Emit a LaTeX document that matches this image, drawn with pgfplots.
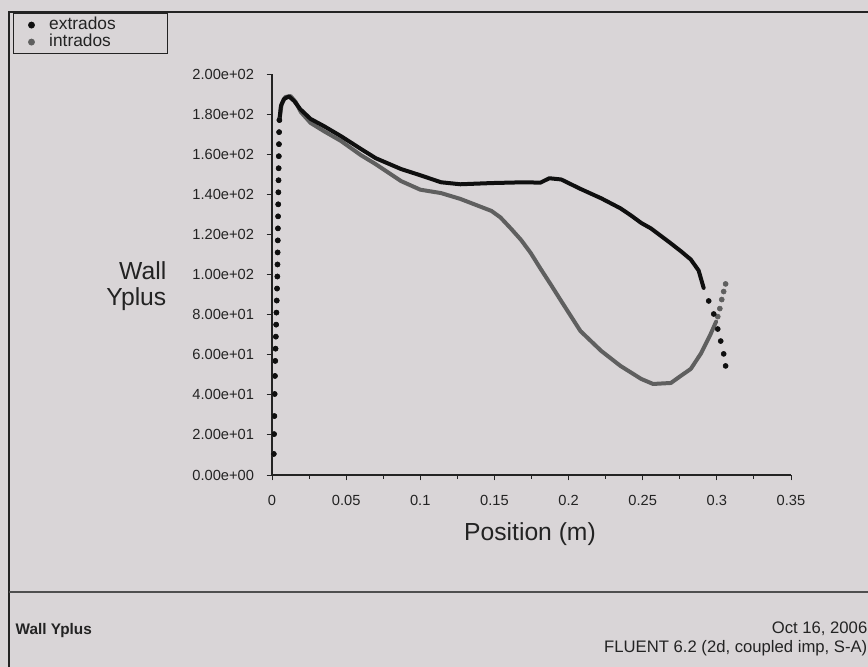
\documentclass[border=0pt]{standalone}
\usepackage{pgfplots}
\pgfplotsset{compat=1.18}
\usepackage{fontspec}
\setmainfont{Liberation Sans}
\definecolor{paper}{RGB}{217,213,215}
\definecolor{ink}{RGB}{35,35,35}
\definecolor{exc}{RGB}{15,15,15}
\definecolor{inc}{RGB}{95,95,95}

\pgfplotstableread{
x y
0.0012 10.5
0.0014 20.4
0.0016 29.4
0.0018 40.4
0.0020 49.4
0.0022 56.9
0.0024 63
0.0026 69
0.0028 75
0.0030 81
0.0032 87
0.0034 93
0.0036 99
0.0037 105
0.0038 111
0.0039 117
0.0040 123
0.0041 129
0.0042 135
0.0043 141
0.0044 147
0.0045 153
0.0046 159
0.0047 165
0.0048 171
0.0050 177
}\leadingedge

\pgfplotstableread{
x y
0.0050 177
0.0060 184
0.0080 187.5
0.0115 188.8
0.0150 186.5
0.0190 182.5
0.0260 177.6
0.0350 174
0.0465 169
0.0600 162.6
0.0700 158
0.0870 152.6
0.1000 149.5
0.1140 146
0.1270 145
0.1480 145.6
0.1700 146
0.1810 145.8
0.1870 148
0.1950 147.4
0.2080 142.7
0.2220 138
0.2350 133
0.2420 129.5
0.2490 125.7
0.2555 123
0.2690 115.5
0.2756 111.7
0.2824 107.5
0.2877 102
0.2911 93.3
}\extradosline

\pgfplotstableread{
x y
0.2945 86.8
0.2979 80.3
0.3006 72.8
0.3026 66.8
0.3046 60.4
0.3059 54.4
}\extradosdots

\pgfplotstableread{
x y
0.0050 177
0.0065 185
0.0090 188.5
0.0125 189
0.0160 186
0.0195 181
0.0260 175.6
0.0350 171.5
0.0465 166.6
0.0600 159.5
0.0700 155
0.0870 146.6
0.1000 142.3
0.1140 140.6
0.1270 137.7
0.1340 135.7
0.1480 131.7
0.1540 128.5
0.1610 123
0.1680 117.2
0.1745 110.7
0.1810 103
0.1880 95
0.1950 86.8
0.2080 71.8
0.2220 61.9
0.2350 54.4
0.2490 47.9
0.2570 45.4
0.2690 45.9
0.2756 49.4
0.2824 52.9
0.2891 60.4
0.2958 70.3
0.2995 76.5
}\intradosline

\pgfplotstableread{
x y
0.3006 79
0.3020 83
0.3033 87.5
0.3046 91.5
0.3059 95.3
}\intradosdots

\begin{document}
\begin{tikzpicture}[x=0.75pt,y=0.75pt]
\clip (0,0) rectangle (868,667);
\fill[paper] (0,0) rectangle (868,667);
% outer frame and separator
\draw[ink, line width=1.1pt] (9,-5) -- (9,655) -- (880,655);
\draw[ink!80, line width=0.9pt] (9,75) -- (880,75);

\begin{axis}[
  at={(204pt,144pt)}, anchor=south west,
  width=389.25pt, height=300.75pt, scale only axis,
  xmin=0, xmax=0.35, ymin=0, ymax=200,
  axis lines=left,
  axis line style={-, draw=ink, line width=0.8pt},
  xtick={0,0.05,0.1,0.15,0.2,0.25,0.3,0.35},
  xticklabels={0,0.05,0.1,0.15,0.2,0.25,0.3,0.35},
  ytick={0,20,40,60,80,100,120,140,160,180,200},
  yticklabels={0.00e+00,2.00e+01,4.00e+01,6.00e+01,8.00e+01,1.00e+02,1.20e+02,1.40e+02,1.60e+02,1.80e+02,2.00e+02},
  minor x tick num=1,
  tick align=outside, major tick length=4pt, minor tick length=3pt,
  every tick/.style={ink, line width=0.7pt},
  ticklabel style={font=\fontsize{11}{12}\selectfont, text=ink},
  yticklabel style={xshift=-6pt},
  xticklabel style={yshift=-8pt},
  clip=false,
  legend image code/.code={\fill (0pt,0pt) circle (2pt);},
  legend style={at={(-0.499,1.1521)}, anchor=north west,
    draw=ink, line width=1.1pt, fill=none,
    font=\fontsize{13}{14}\selectfont, text=ink,
    inner xsep=10.75pt, inner ysep=3pt, row sep=1.75pt,
    nodes={inner sep=0pt, text height=8.5pt, text depth=2.5pt},
    /tikz/every odd column/.append style={column sep=10.75pt}},
  legend cell align=left,
]
\addlegendimage{exc}
\addlegendentry{\makebox[78pt][l]{extrados}}
\addlegendimage{inc}
\addlegendentry{\makebox[78pt][l]{intrados}}

\addplot[forget plot, only marks, mark=*, mark size=1.9pt, inc] table {\leadingedge};
\addplot[forget plot, inc, line width=3pt, line join=round, line cap=round] table {\intradosline};
\addplot[forget plot, only marks, mark=*, mark size=1.9pt, inc] table {\intradosdots};
\addplot[forget plot, exc, line width=3pt, line join=round, line cap=round] table {\extradosline};
\addplot[forget plot, only marks, mark=*, mark size=1.9pt, exc] table {\extradosdots};
\addplot[forget plot, only marks, mark=*, mark size=1.9pt, exc] table {\leadingedge};
\end{axis}

% axis titles
\node[anchor=east, align=right, font=\fontsize{18.5}{19}\selectfont, text=ink] at (171,381) {Wall\\Yplus};
\node[anchor=base, font=\fontsize{18.5}{19}\selectfont, text=ink] at (530,126) {Position (m)};

% footer
\node[anchor=west, font=\bfseries\fontsize{11.5}{12}\selectfont, text=ink] at (11,36) {Wall Yplus};
\node[anchor=east, font=\fontsize{12.5}{13}\selectfont, text=ink] at (872,38) {Oct 16, 2006};
\node[anchor=east, font=\fontsize{12.5}{13}\selectfont, text=ink] at (872,19) {FLUENT 6.2 (2d, coupled imp, S-A)};
\end{tikzpicture}
\end{document}
